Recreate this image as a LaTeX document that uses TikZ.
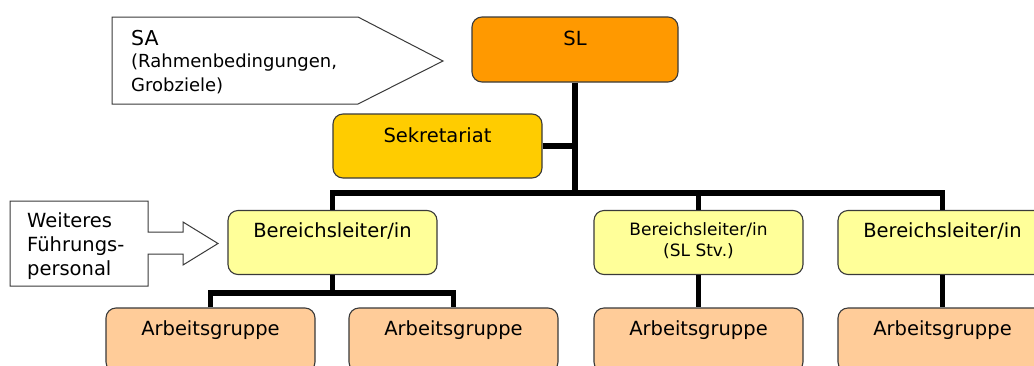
\documentclass[tikz,border=0pt]{standalone}
\usepackage{fontspec}
\setmainfont{DejaVu Sans}
\usetikzlibrary{calc}
\definecolor{slor}{HTML}{FF9900}
\definecolor{sekor}{HTML}{FFCC00}
\definecolor{blyel}{HTML}{FFFF99}
\definecolor{agor}{HTML}{FFCC99}
\definecolor{edge}{HTML}{3A3A3A}
\tikzset{
  box/.style={draw=edge, line width=1.1pt, rounded corners=10pt, minimum width=209pt, minimum height=64pt, inner sep=0pt},
  lbl/.style={anchor=base, inner sep=0pt, font=\fontsize{19.5}{23}\selectfont},
  smalllbl/.style={anchor=base, inner sep=0pt, font=\fontsize{17}{21}\selectfont},
  conn/.style={line width=5.5pt, black},
  callout/.style={draw=edge, line width=1pt, fill=white},
}
\begin{document}
\begin{tikzpicture}[x=1pt,y=-1pt]
\useasboundingbox (0,0) rectangle (1034,365);
\clip (0,0) rectangle (1034,365);
\fill[white] (0,0) rectangle (1034,365);
% bus coordinates
\coordinate (bus) at (0,193);
\coordinate (subbus) at (0,293);
% boxes
\node[box, fill=slor, minimum width=206pt, minimum height=65pt] (sl) at (575,49.5) {};
\node[box, fill=sekor, minimum width=209pt, minimum height=64pt] (sek) at (437.5,146) {};
\node[box, fill=blyel] (bl1) at (332.5,242.5) {};
\node[box, fill=blyel] (bl2) at (698.5,242.5) {};
\node[box, fill=blyel] (bl3) at (942.5,242.5) {};
\node[box, fill=agor] (ag1) at (210.5,340) {};
\node[box, fill=agor] (ag2) at (453.5,340) {};
\node[box, fill=agor] (ag3) at (698.5,340) {};
\node[box, fill=agor] (ag4) at (942.5,340) {};
% labels
\node[lbl] (slt) at ($(sl.north)+(0,29)$) {SL};
\node[lbl] (sekt) at ($(sek.north)+(0,29)$) {Sekretariat};
\node[lbl] (bl1t) at ($(bl1.north)+(0,28)$) {Bereichsleiter/in};
\node[smalllbl] (bl2t) at ($(bl2.north)+(0,26)$) {Bereichsleiter/in};
\node[smalllbl] (bl2u) at ($(bl2.north)+(0,47)$) {(SL Stv.)};
\node[lbl] (bl3t) at ($(bl3.north)+(0,28)$) {Bereichsleiter/in};
\node[lbl] (ag1t) at ($(ag1.north)+(0,28)$) {Arbeitsgruppe};
\node[lbl] (ag2t) at ($(ag2.north)+(0,28)$) {Arbeitsgruppe};
\node[lbl] (ag3t) at ($(ag3.north)+(0,28)$) {Arbeitsgruppe};
\node[lbl] (ag4t) at ($(ag4.north)+(0,28)$) {Arbeitsgruppe};
% connectors
\draw[conn] (sl.south) -- (sl.south |- bus);
\draw[conn] (sek.east) -- (sek.east -| sl.south);
\draw[conn, line join=miter] (bl1.north) -- (bl1.north |- bus) -- (bl3.north |- bus) -- (bl3.north);
\draw[conn] (bl2.north |- bus) -- (bl2.north);
\draw[conn] (bl1.south) -- (bl1.south |- subbus);
\draw[conn, line join=miter] (ag1.north) -- (ag1.north |- subbus) -- (ag2.north |- subbus) -- (ag2.north);
\draw[conn] (bl2.south) -- (ag3.north);
\draw[conn] (bl3.south) -- (ag4.north);
% SA callout
\draw[callout] (112,17) -- (358,17) -- (443,61) -- (358,104) -- (112,104) -- cycle;
\node[anchor=base west, inner sep=0pt, font=\fontsize{20.5}{23}\selectfont] (sat) at (131,45) {SA};
\node[anchor=base west, inner sep=0pt, font=\fontsize{18}{23}\selectfont] (sat2) at (131,67) {(Rahmenbedingungen,};
\node[anchor=base west, inner sep=0pt, font=\fontsize{18}{23}\selectfont] (sat3) at (131,91) {Grobziele)};
% Weiteres callout
\draw[callout] (10,201) -- (148,201) -- (148,232) -- (183,232) -- (183,222) -- (218,243.5) -- (183,265) -- (183,254) -- (148,254) -- (148,286) -- (10,286) -- cycle;
\node[anchor=base west, inner sep=0pt, font=\fontsize{19.5}{23}\selectfont] (wt1) at (27,227) {Weiteres};
\node[anchor=base west, inner sep=0pt, font=\fontsize{19.5}{23}\selectfont] (wt2) at (27,251) {Führungs-};
\node[anchor=base west, inner sep=0pt, font=\fontsize{19.5}{23}\selectfont] (wt3) at (27,275) {personal};
\end{tikzpicture}
\end{document}
